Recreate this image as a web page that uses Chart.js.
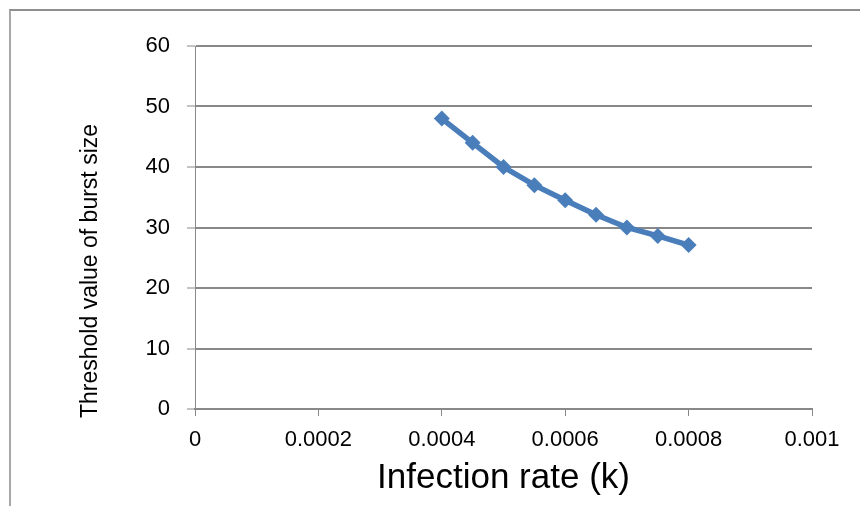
<!DOCTYPE html>
<html>
<head>
<meta charset="utf-8">
<title>Threshold burst size</title>
<script src="https://cdn.jsdelivr.net/npm/chart.js@4.4.0/dist/chart.umd.min.js"></script>
<style>
  html, body { margin: 0; padding: 0; background: #fff; }
  #wrap { position: relative; width: 860px; height: 506px; overflow: hidden; }
  #frame {
    position: absolute; left: 9px; top: 9px; right: 0; bottom: 0;
    border-top: 2px solid #8e8e8e; border-left: 2px solid #a8a8a8;
    pointer-events: none;
  }
</style>
</head>
<body>
<div id="wrap">
  <canvas id="burstChart" width="860" height="506"></canvas>
  <div id="frame"></div>
</div>
<script>
// Threshold value of burst size against infection rate k
const infectionRates = [0.0004, 0.00045, 0.0005, 0.00055, 0.0006, 0.00065, 0.0007, 0.00075, 0.0008];
const thresholdBurst = [48, 44, 40, 37, 34.5, 32.1, 30, 28.6, 27.1];

const xTickLabels = ['0', '0.0002', '0.0004', '0.0006', '0.0008', '0.001'];
const yTickLabels = ['0', '10', '20', '30', '40', '50', '60'];

const lineBlue = '#4a7ebb';
const gridGrey = '#888888';
const fontFamily = '"Liberation Sans", Arial, sans-serif';

Chart.defaults.font.family = fontFamily;
Chart.defaults.color = '#000';

// y axis title sits low, starting just under the plot bottom
const yTitlePlugin = {
    id: 'yTitle',
    afterDraw(chart) {
        const { ctx, chartArea } = chart;
        ctx.save();
        ctx.translate(chartArea.left - 104, chartArea.bottom + 9);
        ctx.rotate(-Math.PI / 2);
        ctx.font = '23px ' + fontFamily;
        ctx.fillStyle = '#000';
        ctx.textAlign = 'left';
        ctx.textBaseline = 'middle';
        ctx.fillText('Threshold value of burst size', 0, 0);
        ctx.restore();
    }
};

const points = infectionRates.map((k, i) => ({ x: k, y: thresholdBurst[i] }));

new Chart(document.getElementById('burstChart'), {
    type: 'line',
    data: {
        datasets: [{
            data: points,
            borderColor: lineBlue,
            backgroundColor: lineBlue,
            borderWidth: 5.5,
            tension: 0,
            pointStyle: 'rectRot',
            pointRadius: 8,
            pointBorderWidth: 0,
            pointBackgroundColor: lineBlue
        }]
    },
    options: {
        responsive: false,
        animation: false,
        layout: { padding: { top: 46, right: 48, left: 0, bottom: 0 } },
        plugins: {
            legend: { display: false },
            tooltip: { enabled: false }
        },
        scales: {
            x: {
                type: 'linear',
                min: 0,
                max: 0.001,
                afterFit: (scale) => { scale.height = 97; },
                ticks: {
                    stepSize: 0.0002,
                    padding: 11,
                    maxRotation: 0,
                    font: { size: 22 },
                    callback: (v, i) => xTickLabels[i]
                },
                grid: {
                    drawOnChartArea: false,
                    drawTicks: true,
                    tickLength: 7,
                    tickWidth: 1,
                    tickColor: gridGrey
                },
                border: { color: gridGrey, width: 2 },
                title: {
                    display: true,
                    text: 'Infection rate (k)',
                    font: { size: 35 },
                    padding: { top: 0, bottom: 7 }
                }
            },
            y: {
                min: 0,
                max: 60,
                afterFit: (scale) => { scale.width = 195; },
                ticks: {
                    stepSize: 10,
                    padding: 17,
                    font: { size: 22 },
                    callback: (v, i) => yTickLabels[i]
                },
                grid: {
                    color: gridGrey,
                    lineWidth: 2,
                    drawTicks: true,
                    tickLength: 8,
                    tickWidth: 1,
                    tickColor: gridGrey
                },
                border: { color: gridGrey, width: 1 }
            }
        }
    },
    plugins: [yTitlePlugin]
});
</script>
</body>
</html>
